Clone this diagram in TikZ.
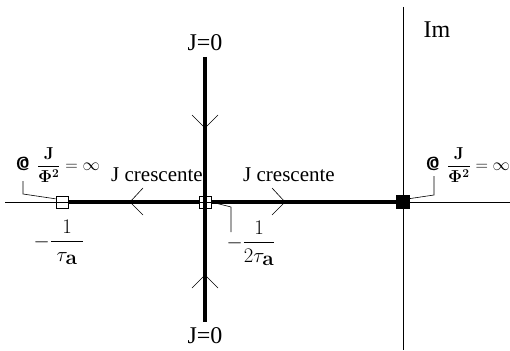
\documentclass[tikz,border=0pt]{standalone}
\usepackage{amsmath}
\usepackage[no-math]{fontspec}
\setmainfont{Liberation Serif}
\usetikzlibrary{calc}
\begin{document}
\begin{tikzpicture}[x=1pt,y=-1pt,
  thinline/.style={line width=0.6pt},
  heavy/.style={line width=4pt},
  lbl/.style={font=\fontsize{21}{24}\selectfont, inner sep=0},
  big/.style={font=\fontsize{24}{28}\selectfont, inner sep=0},
  ann/.style={font=\fontsize{17}{19}\selectfont, inner sep=0},
  mlbl/.style={font=\fontsize{20}{22}\selectfont, inner sep=0},
  sq/.style={draw, line width=0.6pt, minimum size=12pt, inner sep=0, fill=white}]
\useasboundingbox (0,0) rectangle (510,350);
% axes end points
\coordinate (rl) at (5,202);
\coordinate (rr) at (510,202);
\coordinate (it) at (403,7);
\coordinate (ib) at (403,350);
\coordinate (vt) at (205,57);
\coordinate (vb) at (205,322);
% squares
\node[sq] (lsq) at (62,202) {};
\node[sq] (msq) at (205,202) {};
\node[sq, fill=black, minimum size=13pt] (bsq) at (403,202) {};
% thick locus
\draw[heavy] (lsq.east) -- (msq.west);
\draw[heavy] (msq.east) -- (bsq.west);
\draw[heavy] (vt) -- (vb);
% axes
\draw[thinline] (rl) -- (rr);
\draw[thinline] (it) -- (ib);
% direction chevrons
\draw[thinline] (143,188) -- (130,202) -- (143,215);
\draw[thinline] (272,188) -- (285,202) -- (272,215);
\draw[thinline] (192,115) -- (205,128) -- (218,115);
\draw[thinline] (192,288) -- (205,275) -- (218,288);
% labels
\node[big] (jt) at (205,43) {J=0};
\node[big] (jb) at (205,336) {J=0};
\node[big] (im) at (437,30) {Im};
\node[lbl] (lcr) at (157,175) {J crescente};
\node[lbl] (rcr) at (289,175) {J crescente};
\node[ann] (lann) at (58,165) {{\fontsize{19}{20}\selectfont\textsf{\textbf{@}}}\, $\dfrac{\mathbf{J}}{\mathbf{\Phi}^{\mathbf 2}}=\infty$};
\node[ann] (rann) at (468,165) {{\fontsize{19}{20}\selectfont\textsf{\textbf{@}}}\, $\dfrac{\mathbf{J}}{\mathbf{\Phi}^{\mathbf 2}}=\infty$};
\node[mlbl] (ltau) at (59,242) {$-\dfrac{1}{\;\tau_{\textstyle\mathbf a}\;}$};
\node[mlbl] (mtau) at (251,243) {$-\dfrac{1}{2\tau_{\textstyle\mathbf a}}$};
% leaders
\coordinate (lk) at (23,194);
\coordinate (lt) at (23,181);
\draw[thinline] ($(lsq.west)!0.5!(lsq.north west)$) -- (lk) -- (lt);
\coordinate (rk) at (434,195);
\coordinate (rt) at (434,176);
\draw[thinline] ($(bsq.east)!0.5!(bsq.north east)$) -- (rk) -- (rt);
\coordinate (mk) at (231,207);
\coordinate (mt) at (231,232);
\draw[thinline] (msq.east) -- (mk) -- (mt);
\end{tikzpicture}
\end{document}
